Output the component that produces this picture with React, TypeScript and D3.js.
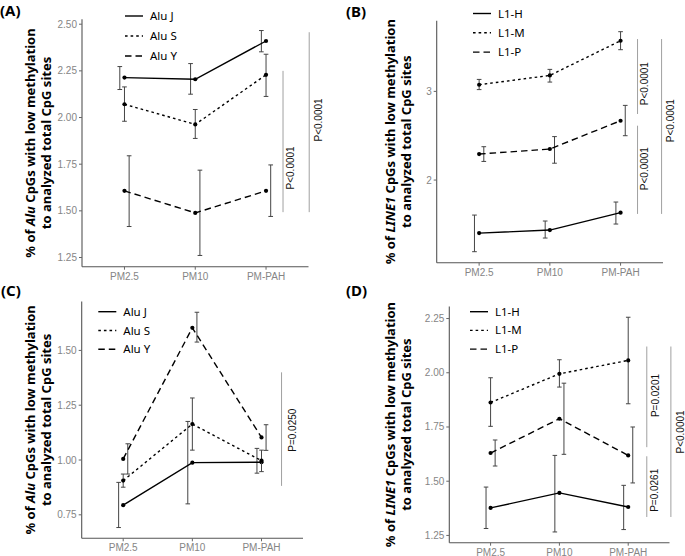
import React from "react";
import * as d3 from "d3";

const categories = ["PM2.5", "PM10", "PM-PAH"];
const aluNames = ["Alu J", "Alu S", "Alu Y"];
const lineNames = ["L1-H", "L1-M", "L1-P"];

// Panel A (Alu)
const aJ = [2.214, 2.205, 2.41];
const aJlo = [2.15, 2.125, 2.352];
const aJhi = [2.273, 2.289, 2.466];
const aS = [2.071, 1.963, 2.229];
const aSlo = [1.98, 1.888, 2.113];
const aShi = [2.164, 2.043, 2.339];
const aY = [1.607, 1.489, 1.607];
const aYlo = [1.416, 1.261, 1.47];
const aYhi = [1.795, 1.718, 1.746];

// Panel B (LINE1)
const bH = [1.402, 1.436, 1.632];
const bHlo = [1.192, 1.346, 1.504];
const bHhi = [1.605, 1.538, 1.752];
const bM = [3.075, 3.18, 3.571];
const bMlo = [3.02, 3.105, 3.47];
const bMhi = [3.135, 3.248, 3.673];
const bP = [2.293, 2.35, 2.669];
const bPlo = [2.21, 2.19, 2.5];
const bPhi = [2.376, 2.49, 2.842];

// Panel C (Alu)
const cJ = [0.794, 0.988, 0.99];
const cJlo = [0.692, 0.8, 0.94];
const cJhi = [0.898, 1.176, 1.053];
const cS = [0.906, 1.164, 0.997];
const cSlo = [0.876, 1.045, 0.947];
const cShi = [0.936, 1.283, 1.045];
const cY = [1.005, 1.603, 1.103];
const cYlo = [0.936, 1.538, 1.044];
const cYhi = [1.074, 1.674, 1.161];

// Panel D (LINE1)
const dH = [1.377, 1.446, 1.381];
const dHlo = [1.282, 1.266, 1.277];
const dHhi = [1.473, 1.619, 1.481];
const dM = [1.863, 1.995, 2.057];
const dMlo = [1.753, 1.934, 1.857];
const dMhi = [1.977, 2.06, 2.256];
const dP = [1.63, 1.788, 1.619];
const dPlo = [1.57, 1.624, 1.492];
const dPhi = [1.69, 1.952, 1.75];

const aTicks = [1.25, 1.5, 1.75, 2.0, 2.25, 2.5];
const bTicks = [2, 3];
const cTicks = [0.75, 1.0, 1.25, 1.5];
const dTicks = [1.25, 1.5, 1.75, 2.0, 2.25];

// p-value brackets: [x (category index), yFrom, yTo]
const aBrackets = [[2.24, 1.493, 2.25], [2.61, 1.493, 2.457]];
const aPText = [[2.35, 1.73, "P<0.0001"], [2.74, 1.987, "P<0.0001"]];
const bBrackets = [[2.24, 2.745, 3.59], [2.24, 1.618, 2.613], [2.58, 1.618, 3.59]];
const bPText = [[2.34, 3.087, "P<0.0001"], [2.34, 2.129, "P<0.0001"], [2.7, 2.67, "P<0.0001"]];
const cBrackets = [[2.29, 0.882, 1.4]];
const cPText = [[2.45, 1.136, "P=0.0250"]];
const dBrackets = [[2.27, 1.657, 2.121], [2.27, 1.335, 1.615], [2.62, 1.335, 2.121]];
const dPText = [[2.4, 1.895, "P=0.0201"], [2.38, 1.458, "P=0.0261"], [2.76, 1.727, "P<0.0001"]];

const dashes = [null, "2.6,3", "6.5,4"];
const tickFont = "'Liberation Sans', Arial, sans-serif";
const textFont = "'Noto Sans', 'Open Sans', sans-serif";

type Series = { name: string; mean: number[]; lo: number[]; hi: number[] };
type Cfg = {
  label: string;
  gene: string;
  box: [number, number, number, number];
  series: Series[];
  ticks: number[];
  fmt: (v: number) => string;
  brackets: any[];
  ptext: any[];
  legend: [number, number, number];
  labelPos: [number, number];
  titleX: number;
};

const mk = (names: string[], m: number[][], lo: number[][], hi: number[][]): Series[] =>
  names.map((n, i) => ({ name: n, mean: m[i], lo: lo[i], hi: hi[i] }));

const f2 = d3.format(".2f");
const f0 = d3.format("d");

const panels: Cfg[] = [
  {
    label: "(A)", gene: "Alu", box: [82, 308.5, 19.3, 266.7],
    series: mk(aluNames, [aJ, aS, aY], [aJlo, aSlo, aYlo], [aJhi, aShi, aYhi]),
    ticks: aTicks, fmt: f2, brackets: aBrackets, ptext: aPText,
    legend: [125, 16, 20], labelPos: [0, 16], titleX: 30,
  },
  {
    label: "(B)", gene: "LINE1", box: [436.7, 663, 20.7, 262.7],
    series: mk(lineNames, [bH, bM, bP], [bHlo, bMlo, bPlo], [bHhi, bMhi, bPhi]),
    ticks: bTicks, fmt: f0, brackets: bBrackets, ptext: bPText,
    legend: [473, 13.5, 19.3], labelPos: [346, 16.5], titleX: 390,
  },
  {
    label: "(C)", gene: "Alu", box: [81.7, 303, 301.5, 538.3],
    series: mk(aluNames, [cJ, cS, cY], [cJlo, cSlo, cYlo], [cJhi, cShi, cYhi]),
    ticks: cTicks, fmt: f2, brackets: cBrackets, ptext: cPText,
    legend: [98.3, 311.7, 18.8], labelPos: [1, 296], titleX: 30,
  },
  {
    label: "(D)", gene: "LINE1", box: [449.3, 669.5, 306.5, 542.7],
    series: mk(lineNames, [dH, dM, dP], [dHlo, dMlo, dPlo], [dHhi, dMhi, dPhi]),
    ticks: dTicks, fmt: f2, brackets: dBrackets, ptext: dPText,
    legend: [470, 311.7, 18.7], labelPos: [346, 296], titleX: 390,
  },
];

function Panel({ cfg }: { cfg: Cfg }) {
  const [x0, x1, y0, y1] = cfg.box;
  const x = d3.scalePoint<string>().domain(categories).range([x0, x1]).padding(0.6);
  const step = x.step();
  const xi = (i: number) => (x(categories[0]) as number) + i * step;
  const all = cfg.series.flatMap((s) => [...s.lo, ...s.hi]);
  const mn = d3.min(all) as number;
  const mx = d3.max(all) as number;
  const pad = (mx - mn) * 0.05;
  const y = d3.scaleLinear().domain([mn - pad, mx + pad]).range([y1, y0]);
  const line = d3
    .line<number>()
    .x((_, i) => xi(i))
    .y((d) => y(d));
  const dodge = 0.066;
  const cap = 0.033;
  const cy = (y0 + y1) / 2;
  const tx = cfg.titleX;
  const [lx, ly, lsp] = cfg.legend;
  return (
    <g>
      {/* axes */}
      <line x1={x0} x2={x0} y1={y0} y2={y1} stroke="#555" strokeWidth={1.1} />
      <line x1={x0} x2={x1} y1={y1} y2={y1} stroke="#555" strokeWidth={1.1} />
      {cfg.ticks.map((t) => (
        <g key={t}>
          <line x1={x0 - 3} x2={x0} y1={y(t)} y2={y(t)} stroke="#666" />
          <text x={x0 - 5} y={y(t)} dy="0.35em" textAnchor="end" fontSize={10} fill="#858585" fontFamily={tickFont}>
            {cfg.fmt(t)}
          </text>
        </g>
      ))}
      {categories.map((c) => (
        <g key={c}>
          <line x1={x(c)} x2={x(c)} y1={y1} y2={y1 + 3} stroke="#666" />
          <text x={x(c)} y={y1 + 12.8} textAnchor="middle" fontSize={10} fill="#858585" fontFamily={tickFont}>
            {c}
          </text>
        </g>
      ))}
      {/* y title */}
      <text
        transform={`translate(${tx},${cy}) rotate(-90)`}
        textAnchor="middle"
        dominantBaseline="central"
        fontSize={13}
        fontWeight="bold"
        fontFamily={textFont}
      >
        % of <tspan fontStyle="italic">{cfg.gene}</tspan> CpGs with low methylation
      </text>
      <text
        transform={`translate(${tx + 15.5},${cy}) rotate(-90)`}
        textAnchor="middle"
        dominantBaseline="central"
        fontSize={13}
        fontWeight="bold"
        fontFamily={textFont}
      >
        to analyzed total CpG sites
      </text>
      {/* series */}
      {cfg.series.map((s, k) => (
        <g key={s.name}>
          {s.mean.map((_, i) => {
            const ex = xi(i + (k - 1) * dodge);
            return (
              <g key={i}>
                <line x1={ex} x2={ex} y1={y(s.lo[i])} y2={y(s.hi[i])} stroke="#444" strokeWidth={1} />
                <line x1={xi(i + (k - 1) * dodge - cap)} x2={xi(i + (k - 1) * dodge + cap)} y1={y(s.lo[i])} y2={y(s.lo[i])} stroke="#444" strokeWidth={1} />
                <line x1={xi(i + (k - 1) * dodge - cap)} x2={xi(i + (k - 1) * dodge + cap)} y1={y(s.hi[i])} y2={y(s.hi[i])} stroke="#444" strokeWidth={1} />
              </g>
            );
          })}
          <path d={line(s.mean) as string} fill="none" stroke="#000" strokeWidth={1.4} strokeDasharray={dashes[k] ?? undefined} />
          {s.mean.map((v, i) => (
            <circle key={i} cx={xi(i)} cy={y(v)} r={2.1} fill="#000" />
          ))}
        </g>
      ))}
      {/* brackets */}
      {cfg.brackets.map((b, i) => (
        <line key={i} x1={xi(b[0])} x2={xi(b[0])} y1={y(b[1])} y2={y(b[2])} stroke="#a0a0a0" strokeWidth={1} />
      ))}
      {cfg.ptext.map((p, i) => (
        <text
          key={i}
          transform={`translate(${xi(p[0])},${y(p[1])}) rotate(-90)`}
          textAnchor="middle"
          dominantBaseline="central"
          fontSize={10}
          fontFamily={tickFont}
          fill="#111"
        >
          {p[2]}
        </text>
      ))}
      {/* legend */}
      {cfg.series.map((s, k) => (
        <g key={s.name}>
          <line x1={lx} x2={lx + 18} y1={ly + k * lsp} y2={ly + k * lsp} stroke="#000" strokeWidth={1.4} strokeDasharray={dashes[k] ?? undefined} />
          <text x={lx + 25} y={ly + k * lsp} dy="0.35em" fontSize={11.5} fontFamily={textFont}>
            {s.name}
          </text>
        </g>
      ))}
      <text x={cfg.labelPos[0]} y={cfg.labelPos[1]} fontSize={15} fontWeight="bold" fontFamily={textFont}>
        {cfg.label}
      </text>
    </g>
  );
}

export default function App() {
  return (
    <svg width={685} height={556} style={{ position: "absolute", left: 0, top: 0, background: "#fff" }}>
      <rect width={685} height={556} fill="#fff" />
      {panels.map((p) => (
        <Panel key={p.label} cfg={p} />
      ))}
    </svg>
  );
}
